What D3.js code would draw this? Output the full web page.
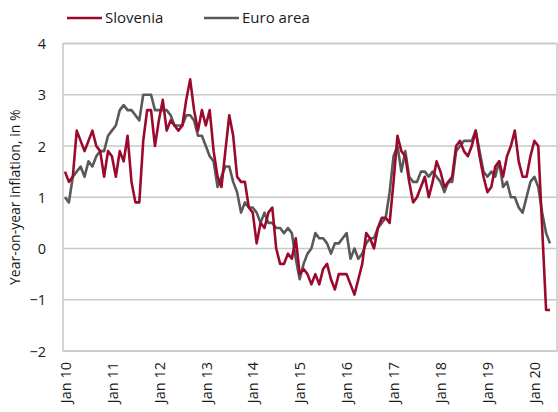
<!DOCTYPE html>
<html>
<head>
<meta charset="utf-8">
<script src="https://cdn.jsdelivr.net/npm/d3@7"></script>
<style>
  body { margin: 0; background: #fff; }
  text { font-family: "Open Sans", "Noto Sans", sans-serif; fill: #1a1a1a; }
</style>
</head>
<body>
<div id="chart"></div>
<script>
// monthly, Jan 2010 .. May 2020
const slovenia = [
  1.5, 1.3, 1.4, 2.3, 2.1, 1.9, 2.1, 2.3, 2.0, 1.9, 1.4, 1.9,
  1.8, 1.4, 1.9, 1.7, 2.2, 1.3, 0.9, 0.9, 2.1, 2.7, 2.7, 2.0,
  2.5, 2.9, 2.3, 2.5, 2.4, 2.3, 2.4, 2.9, 3.3, 2.7, 2.3, 2.7,
  2.4, 2.7, 1.9, 1.4, 1.2, 1.9, 2.6, 2.2, 1.4, 1.3, 1.3, 0.8,
  0.7, 0.1, 0.5, 0.4, 0.7, 0.8, 0.0, -0.3, -0.3, -0.1, -0.2, 0.2,
  -0.5, -0.4, -0.5, -0.7, -0.5, -0.7, -0.4, -0.3, -0.6, -0.8, -0.5, -0.5,
  -0.5, -0.7, -0.9, -0.6, -0.3, 0.3, 0.2, 0.0, 0.4, 0.6, 0.6, 0.5,
  1.3, 2.2, 1.9, 1.8, 1.3, 0.9, 1.0, 1.2, 1.4, 1.0, 1.3, 1.7,
  1.5, 1.2, 1.3, 1.4, 2.0, 2.1, 1.9, 1.8, 2.0, 2.3, 1.8, 1.4,
  1.1, 1.2, 1.6, 1.7, 1.4, 1.8, 2.0, 2.3, 1.7, 1.4, 1.4, 1.8,
  2.1, 2.0, 0.4, -1.2, -1.2
];
const euroArea = [
  1.0, 0.9, 1.4, 1.5, 1.6, 1.4, 1.7, 1.6, 1.8, 1.9, 1.9, 2.2,
  2.3, 2.4, 2.7, 2.8, 2.7, 2.7, 2.6, 2.5, 3.0, 3.0, 3.0, 2.7,
  2.7, 2.7, 2.7, 2.6, 2.4, 2.4, 2.4, 2.6, 2.6, 2.5, 2.2, 2.2,
  2.0, 1.8, 1.7, 1.2, 1.4, 1.6, 1.6, 1.3, 1.1, 0.7, 0.9, 0.8,
  0.8, 0.7, 0.5, 0.7, 0.5, 0.5, 0.4, 0.4, 0.3, 0.4, 0.3, -0.2,
  -0.6, -0.3, -0.1, 0.0, 0.3, 0.2, 0.2, 0.1, -0.1, 0.1, 0.1, 0.2,
  0.3, -0.2, 0.0, -0.2, -0.1, 0.1, 0.2, 0.2, 0.4, 0.5, 0.6, 1.1,
  1.8, 2.0, 1.5, 1.9, 1.4, 1.3, 1.3, 1.5, 1.5, 1.4, 1.5, 1.4,
  1.3, 1.1, 1.3, 1.3, 1.9, 2.0, 2.1, 2.1, 2.1, 2.3, 1.9, 1.5,
  1.4, 1.5, 1.4, 1.7, 1.2, 1.3, 1.0, 1.0, 0.8, 0.7, 1.0, 1.3,
  1.4, 1.2, 0.7, 0.3, 0.1
];
const tickLabels = ["Jan 10", "Jan 11", "Jan 12", "Jan 13", "Jan 14", "Jan 15",
  "Jan 16", "Jan 17", "Jan 18", "Jan 19", "Jan 20"];
const yTicks = [-2, -1, 0, 1, 2, 3, 4];

const width = 558;
const height = 412;
const plot = { left: 63, right: 557, top: 43.5, bottom: 351 };

const red = "#9b0a2c";
const grey = "#595959";

const months = d3.range(slovenia.length);

const x = d3.scalePoint()
  .domain(months)
  .range([65, 550]);

const y = d3.scaleLinear()
  .domain([-2, 4])
  .range([plot.bottom, plot.top]);

const svg = d3.select("#chart").append("svg")
  .attr("width", width)
  .attr("height", height);

// gridlines
svg.append("g")
  .selectAll("line")
  .data(yTicks)
  .join("line")
  .attr("x1", plot.left)
  .attr("x2", plot.right)
  .attr("y1", d => y(d))
  .attr("y2", d => y(d))
  .attr("stroke", "#c8c8c8")
  .attr("stroke-width", 1.5);

// frame
svg.append("rect")
  .attr("x", plot.left)
  .attr("y", plot.top)
  .attr("width", plot.right - plot.left)
  .attr("height", plot.bottom - plot.top)
  .attr("fill", "none")
  .attr("stroke", "#c8c8c8")
  .attr("stroke-width", 1.5);

// y axis labels
const yAxis = d3.axisLeft(y).tickValues(yTicks).tickSize(0).tickPadding(0)
  .tickFormat(d3.format("d"));
svg.append("g")
  .attr("transform", `translate(46,0)`)
  .call(yAxis)
  .call(g => g.select(".domain").remove())
  .selectAll("text")
  .attr("font-size", 14.5)
  .attr("font-family", "Open Sans, Noto Sans, sans-serif")
  .attr("fill", "#1a1a1a")
  .attr("dy", "0.36em");

svg.append("text")
  .attr("transform", `translate(20,${(plot.top + plot.bottom) / 2}) rotate(-90)`)
  .attr("text-anchor", "middle")
  .attr("font-size", 14)
  .text("Year-on-year inflation, in %");

// x axis labels (every January)
const xAxis = d3.axisBottom(x)
  .tickValues(months.filter(m => m % 12 === 0))
  .tickSize(0)
  .tickFormat(m => tickLabels[m / 12]);
svg.append("g")
  .attr("transform", `translate(0,${plot.bottom})`)
  .call(xAxis)
  .call(g => g.select(".domain").remove())
  .selectAll("text")
  .attr("font-size", 14.5)
  .attr("font-family", "Open Sans, Noto Sans, sans-serif")
  .attr("fill", "#1a1a1a")
  .attr("text-anchor", "end")
  .attr("transform", "rotate(-90)")
  .attr("x", -11)
  .attr("y", 0)
  .attr("dy", "0.36em");

// lines
const line = values => d3.line()
  .x((d, i) => x(i))
  .y(d => y(d))(values);

svg.append("path")
  .attr("d", line(euroArea))
  .attr("fill", "none")
  .attr("stroke", grey)
  .attr("stroke-width", 2.6)
  .attr("stroke-linejoin", "round");

svg.append("path")
  .attr("d", line(slovenia))
  .attr("fill", "none")
  .attr("stroke", red)
  .attr("stroke-width", 2.6)
  .attr("stroke-linejoin", "round");

// legend
const legend = [
  { name: "Slovenia", color: red, x: 67 },
  { name: "Euro area", color: grey, x: 204 }
];
const lg = svg.append("g").selectAll("g")
  .data(legend)
  .join("g")
  .attr("transform", d => `translate(${d.x},18)`);
lg.append("line")
  .attr("x1", 0).attr("x2", 35)
  .attr("stroke", d => d.color)
  .attr("stroke-width", 2.6);
lg.append("text")
  .attr("x", 38)
  .attr("dy", "0.36em")
  .attr("font-size", 15)
  .text(d => d.name);
</script>
</body>
</html>
